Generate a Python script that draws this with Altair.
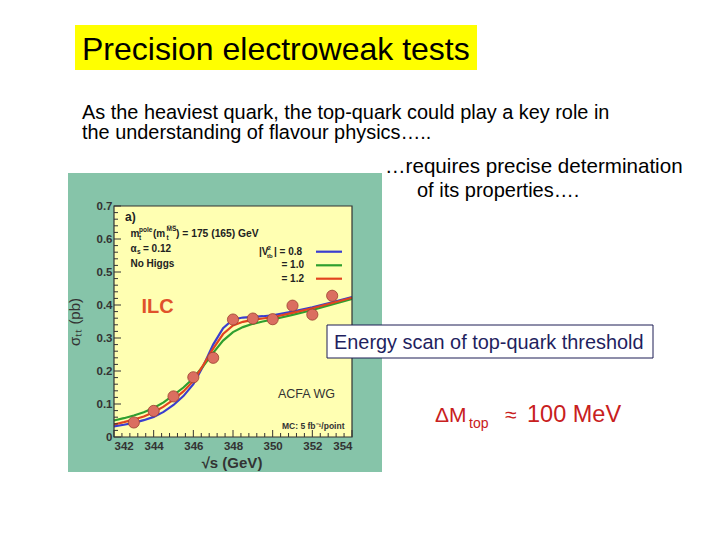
import altair as alt
import pandas as pd

# ---------------- data ----------------
curve_x = [342, 342.5, 343, 343.5, 344, 344.5, 345, 345.5, 346, 346.5, 347,
           347.5, 348, 348.5, 349, 349.5, 350, 351, 352, 353, 354]
curve_blue = [0.032, 0.037, 0.043, 0.051, 0.061, 0.076, 0.097, 0.124, 0.160, 0.215, 0.280,
              0.330, 0.356, 0.362, 0.364, 0.366, 0.369, 0.380, 0.393, 0.408, 0.424]
curve_green = [0.050, 0.057, 0.065, 0.075, 0.088, 0.105, 0.127, 0.150, 0.178, 0.215, 0.255,
               0.292, 0.318, 0.333, 0.343, 0.350, 0.356, 0.370, 0.385, 0.402, 0.418]
curve_red = [0.038, 0.045, 0.053, 0.062, 0.075, 0.092, 0.113, 0.138, 0.170, 0.218, 0.268,
             0.312, 0.338, 0.349, 0.355, 0.359, 0.363, 0.376, 0.390, 0.406, 0.422]
series_names = ["0.8", "1.0", "1.2"]
series_colors = ["#3a3ecf", "#2f9f2f", "#e2441f"]

point_x = [343, 344, 345, 346, 347, 348, 349, 350, 351, 352, 353]
point_y = [0.044, 0.079, 0.123, 0.181, 0.240, 0.356, 0.359, 0.357, 0.398, 0.371, 0.428]
point_err = [0.010, 0.011, 0.012, 0.013, 0.014, 0.015, 0.015, 0.015, 0.016, 0.016, 0.016]

x_major = [342, 344, 346, 348, 350, 352, 354]
y_major = [0, 0.1, 0.2, 0.3, 0.4, 0.5, 0.6, 0.7]
x_minor = [round(342 + 0.4 * i, 2) for i in range(31) if i % 5 != 0]
y_minor = [round(0.02 * i, 3) for i in range(36) if i % 5 != 0]

# ---------------- layout constants (chart pixel coords) ----------------
X0, X1 = 106, 344      # plot area left/right
Y0, Y1 = 429, 198      # plot area bottom/top
FONT = "Liberation Sans"

xs = alt.Scale(domain=[342, 354], range=[X0, X1], nice=False, zero=False)
ys = alt.Scale(domain=[0, 0.7], range=[Y0, Y1], nice=False, zero=False)

xa = alt.Axis(orient="bottom", offset=-(524 - Y0), values=x_major, format="d",
              ticks=False, domain=False, grid=False, title=None, labelPadding=3,
              labelFont=FONT, labelFontSize=11.5, labelFontWeight="bold",
              labelColor="#333333", zindex=2)
ya = alt.Axis(orient="left", offset=-X0, values=y_major, format="~g",
              ticks=False, domain=False, grid=False, title=None, labelPadding=2,
              labelFont=FONT, labelFontSize=11.5, labelFontWeight="bold",
              labelColor="#333333", zindex=2)

one = pd.DataFrame({"a": [0]})

curves = pd.DataFrame(
    [{"x": x, "y": y, "s": series_names[0]} for x, y in zip(curve_x, curve_blue)]
    + [{"x": x, "y": y, "s": series_names[1]} for x, y in zip(curve_x, curve_green)]
    + [{"x": x, "y": y, "s": series_names[2]} for x, y in zip(curve_x, curve_red)]
)
pts = pd.DataFrame({"x": point_x, "y": point_y, "e": point_err})


def X(f="x"):
    return alt.X(f + ":Q", scale=xs, axis=xa)


def Y(f="y"):
    return alt.Y(f + ":Q", scale=ys, axis=ya)


def box(x, x2, y, y2, fill, stroke=None, sw=0):
    kw = dict(fill=fill)
    if stroke:
        kw.update(stroke=stroke, strokeWidth=sw)
    return alt.Chart(one).mark_rect(**kw).encode(
        x=alt.value(x), x2=alt.value(x2), y=alt.value(y), y2=alt.value(y2))


def txt(s, x, y, size, color="#222222", weight="normal", align="left",
        baseline="middle", angle=0, font=FONT):
    return alt.Chart(one).mark_text(
        text=s, fontSize=size, color=color, fontWeight=weight, align=align,
        baseline=baseline, angle=angle, font=font).encode(
        x=alt.value(x), y=alt.value(y))


layers = []

# green picture panel and yellow plot area
layers.append(box(60, 374, 165, 464, "#86c4a9"))
layers.append(box(X0, X1, Y1, Y0, "#ffffb2"))

# curves
layers.append(
    alt.Chart(curves).mark_line(strokeWidth=2.2).encode(
        x=X(), y=Y(),
        color=alt.Color("s:N", scale=alt.Scale(domain=series_names, range=series_colors),
                        legend=None),
        detail="s:N",
    )
)

# ticks pointing inside
tx_major = pd.DataFrame({"x": x_major})
tx_minor = pd.DataFrame({"x": x_minor})
ty_major = pd.DataFrame({"y": y_major})
ty_minor = pd.DataFrame({"y": y_minor})
tick_col = "#333333"
layers.append(alt.Chart(tx_major).mark_rule(color=tick_col, strokeWidth=1).encode(
    x=X(), y=alt.value(Y0), y2=alt.value(Y0 - 7)))
layers.append(alt.Chart(tx_minor).mark_rule(color=tick_col, strokeWidth=1).encode(
    x=X(), y=alt.value(Y0), y2=alt.value(Y0 - 4)))
layers.append(alt.Chart(ty_major).mark_rule(color=tick_col, strokeWidth=1).encode(
    y=Y(), x=alt.value(X0), x2=alt.value(X0 + 7)))
layers.append(alt.Chart(ty_minor).mark_rule(color=tick_col, strokeWidth=1).encode(
    y=Y(), x=alt.value(X0), x2=alt.value(X0 + 4)))

# error bars + points
layers.append(alt.Chart(pts).transform_calculate(
    lo="datum.y - datum.e", hi="datum.y + datum.e").mark_rule(
    color="#222222", strokeWidth=1.2).encode(
    x=X(), y=Y("lo"), y2="hi:Q"))
layers.append(alt.Chart(pts).mark_circle(
    size=125, color="#db6e60", stroke="#9a4030", strokeWidth=0.8, opacity=1).encode(
    x=X(), y=Y()))

# frame
layers.append(alt.Chart(one).mark_rect(fill=None, stroke="#333333", strokeWidth=1.2).encode(
    x=alt.value(X0), x2=alt.value(X1), y=alt.value(Y1), y2=alt.value(Y0)))

# legend sample lines
for yy, col in zip([243.7, 257.3, 270.7], series_colors):
    layers.append(alt.Chart(one).mark_rule(color=col, strokeWidth=2.2).encode(
        x=alt.value(308), x2=alt.value(334), y=alt.value(yy)))

# texts inside the picture
B = "bold"
layers += [
    txt("a)", 117, 209, 12, weight=B),
    txt("m", 122.5, 225.5, 10, weight=B),
    txt("pole", 131, 221.5, 6.5, weight=B),
    txt("t", 131, 229.5, 6.5, weight=B),
    txt("(m", 145, 225.5, 10, weight=B),
    txt("M\u0305S\u0305", 158.5, 221, 6.5, weight=B),
    txt("t", 158.5, 229.5, 6.5, weight=B),
    txt(") = 175 (165) GeV", 168, 225.5, 10.3, weight=B),
    txt("\u03b1", 122.5, 241, 10, weight=B),
    txt("s", 129, 243.5, 6.5, weight=B),
    txt("= 0.12", 135, 241, 10, weight=B),
    txt("No Higgs", 122.5, 256, 10, weight=B),
    txt("|V", 251, 243.7, 10, weight=B),
    txt("2", 259.5, 240, 6, weight=B),
    txt("tb", 259, 247.5, 6, weight=B),
    txt("| = 0.8", 266, 243.7, 10, weight=B),
    txt("= 1.0", 296, 257.3, 10, weight=B, align="right"),
    txt("= 1.2", 296, 270.7, 10, weight=B, align="right"),
    txt("ILC", 133.5, 299, 20, color="#e0522b", weight=B),
    txt("ACFA WG", 270, 386, 12.5, color="#333333"),
    txt("MC: 5 fb\u207b\u00b9/point", 274, 418, 8.5, weight=B, color="#333333"),
    txt("\u03c3\u209c\u209c (pb)", 67, 314, 15, color="#333333", angle=270, align="center"),
    txt("\u221as (GeV)", 224, 455, 15, weight=B, color="#333333", align="center"),
]

# slide texts
layers += [
    box(67, 469, 17, 62, "#ffff00"),
    txt("Precision electroweak tests", 74, 52, 32, color="#000000", baseline="alphabetic"),
    txt("As the heaviest quark, the top-quark could play a key role in", 74, 111, 19.9,
        color="#000000", baseline="alphabetic"),
    txt("the understanding of flavour physics\u2026..", 74, 131, 19.9,
        color="#000000", baseline="alphabetic"),
    txt("\u2026requires precise determination", 377, 165, 20.6,
        color="#000000", baseline="alphabetic"),
    txt("of its properties\u2026.", 409, 189, 20, color="#000000", baseline="alphabetic"),
    box(319, 645, 317, 350, "#ffffff", stroke="#1c1c55", sw=1),
    txt("Energy scan of top-quark threshold", 326, 335, 19.9, color="#1f1f60"),
    txt("\u0394M", 427, 413.5, 21, color="#c82020", baseline="alphabetic"),
    txt("top", 461, 420, 14, color="#c82020", baseline="alphabetic"),
    txt("\u2248", 497, 413.5, 21, color="#c82020", baseline="alphabetic"),
    txt("100 MeV", 519, 413.5, 23.5, color="#c82020", baseline="alphabetic"),
]

chart = alt.layer(*layers).properties(
    width=704, height=524,
    autosize=alt.AutoSizeParams(type="none"),
    padding=0,
    background="#ffffff",
).configure_view(stroke=None)

chart.save("out.html", embed_options={"renderer": "svg", "actions": False})
